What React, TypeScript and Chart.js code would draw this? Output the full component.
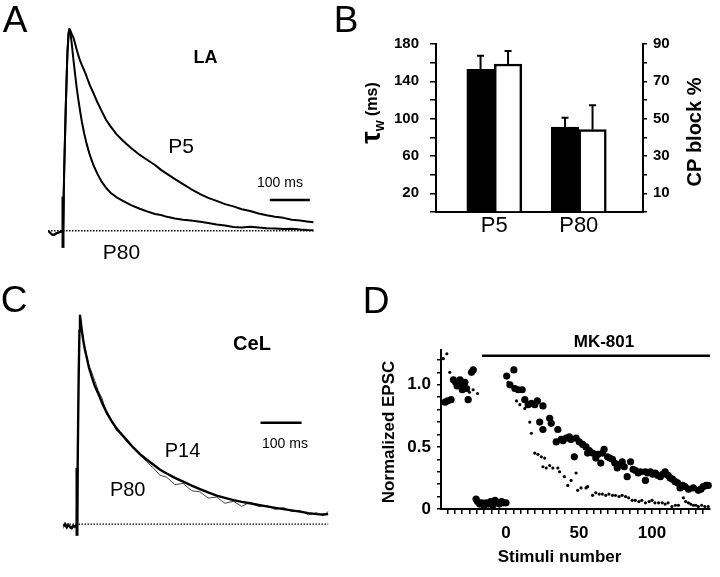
import React, { useEffect, useRef } from 'react';
import { Chart, registerables } from 'chart.js';

Chart.register(...registerables);

const FONT = '"Liberation Sans", Arial, Helvetica, sans-serif';
Chart.defaults.font.family = FONT;
Chart.defaults.color = '#000';

// ---------------- Panel A (LA) : normalized EPSC traces ----------------
const laTime = [-37.5, -33, -28, -22, -16, -10, -4, 0, 3, 7, 11, 14, 16, 19, 22, 26, 30, 34, 38, 43, 47, 53, 59,
  67, 76, 86, 97, 108, 118, 134, 150, 170, 192, 210, 230, 245, 260, 280, 300, 320, 343, 363, 384,
  405, 426, 447, 468, 489, 509, 530, 551, 572, 593, 610, 626];
const laP5 = [0, -0.008, -0.018, -0.02, -0.012, -0.008, -0.004, 0, 0.3, 0.62, 0.88, 0.98, 1.0,
  0.99, 0.975, 0.958, 0.93, 0.9, 0.872, 0.842, 0.822, 0.795, 0.765,
  0.722, 0.683, 0.637, 0.592, 0.549, 0.52, 0.478, 0.446, 0.41, 0.376,
  0.352, 0.326, 0.302, 0.282, 0.256, 0.231, 0.207, 0.182, 0.163, 0.148,
  0.132, 0.121, 0.107, 0.098, 0.086, 0.077, 0.07, 0.064, 0.055, 0.051, 0.046, 0.042];
const laP80 = [0, -0.008, -0.018, -0.02, -0.012, -0.008, -0.004, 0, 0.3, 0.62, 0.88, 0.98, 1.0,
  0.975, 0.925, 0.85, 0.78, 0.712, 0.655, 0.59, 0.542, 0.482, 0.432,
  0.376, 0.326, 0.282, 0.242, 0.212, 0.19, 0.166, 0.148, 0.127, 0.109,
  0.096, 0.083, 0.078, 0.069, 0.061, 0.055, 0.051, 0.045, 0.039, 0.031,
  0.026, 0.019, 0.016, 0.02, 0.016, 0.012, 0.011, 0.009, 0.01, 0.006, 0.004, 0.003];
const laArtifact = { t: 0, from: -0.085, to: 0.17 };
const laScaleBar = { from: 517, to: 617, level: 0.153 }; // 100 ms

// ---------------- Panel B : decay time constant and CP block ----------------
const groups = ['P5', 'P80'];
const tauW = [152.8, 90.9];
const tauWErr = [14.7, 10];
const cpBlock = [79.3, 44.2];
const cpBlockErr = [7, 13];
const tauTicks = [0, 180, 20];
const cpTicks = [0, 90, 10];

// ---------------- Panel C (CeL) ----------------
const celTime = [-33, -29, -25, -21, -17, -13, -9, -5, -1, 0, 2, 4, 6, 7.3,
  9, 12, 15.4, 19, 23.6, 29, 35.8, 43, 52, 62,
  72.4, 84, 96.8, 109, 121, 137, 153.7, 170, 186, 202,
  218.8, 239, 259, 280, 300, 320, 341, 361, 382, 402,
  422, 443, 463, 484, 504, 524, 544, 565, 585, 600, 613];
const celP80 = [-0.01, 0.0, -0.015, -0.005, -0.012, -0.02, -0.008, -0.012, -0.005, 0, 0.35, 0.7, 0.93, 1.0,
  0.975, 0.925, 0.88, 0.84, 0.8, 0.752, 0.708, 0.665, 0.625, 0.578,
  0.536, 0.495, 0.458, 0.43, 0.404, 0.368, 0.336, 0.31, 0.286, 0.262,
  0.243, 0.222, 0.204, 0.185, 0.168, 0.152, 0.137, 0.126, 0.115, 0.107,
  0.1, 0.092, 0.085, 0.078, 0.072, 0.066, 0.06, 0.053, 0.048, 0.046, 0.048];
const celP14 = [-0.02, 0.01, -0.025, 0.005, -0.02, -0.01, 0.0, -0.02, 0.005, 0, 0.33, 0.68, 0.92, 0.99,
  0.97, 0.93, 0.89, 0.85, 0.81, 0.76, 0.73, 0.69, 0.64, 0.6,
  0.525, 0.5, 0.448, 0.437, 0.395, 0.372, 0.33, 0.3, 0.27, 0.235,
  0.225, 0.19, 0.195, 0.16, 0.155, 0.125, 0.13, 0.1, 0.11, 0.085,
  0.105, 0.085, 0.09, 0.07, 0.08, 0.06, 0.065, 0.045, 0.055, 0.04, 0.06];
const celArtifact = { t: 0, from: -0.056, to: 0.27 };
const celScaleBar = { from: 448, to: 548, level: 0.486 }; // 100 ms

// ---------------- Panel D : MK-801 ----------------
const dBigX = [-41.7, -40, -37.6, -36, -34.5, -33.5, -32.7, -31.5, -30.5, -29.9, -28.1, -27, -25.9, -23.6, -22.4,
  -20.5, -19.5, -18, -16.5, -15, -13.5, -12, -10.5, -9, -7.5, -6, -4.5, -3, -1.5, 0,
  0.5, 2.7, 5.4, 6.1, 8.4, 11.1, 12.9, 15.2, 17.4, 19.7, 21.5, 23.1, 25.3, 25.3, 29.9, 31, 34.4, 35.5, 37.8, 39,
  41.2, 43.4, 44.5, 46.8, 48, 50.2, 52.5, 54.8, 55.9, 57, 59.3, 61.5, 63, 64.9, 66, 67.2, 69.5, 71, 72.9, 74.5,
  76.2, 78, 79.6, 81, 83, 85.3, 87, 88.7, 90.5, 92.1, 95.5, 95.5, 97, 98.9, 100.5, 102.3, 104, 105.7, 107.5, 109,
  111, 112.4, 114, 115.8, 117.5, 119.2, 121, 122.6, 125, 128.3, 131.7, 133.5, 135.1, 137, 138.5];
const dBigY = [0.86, 0.87, 0.88, 1.04, 1.02, 0.99, 1.0, 1.04, 1.0, 0.96, 1.02, 0.97, 0.88, 1.1, 1.12,
  0.08, 0.06, 0.04, 0.05, 0.03, 0.05, 0.04, 0.06, 0.03, 0.07, 0.05, 0.04, 0.06, 0.05, 0.05,
  1.07, 1.0, 1.12, 0.97, 0.96, 0.96, 0.88, 0.84, 0.85, 0.84, 0.87, 0.7, 0.83, 0.64, 0.73, 0.69, 0.54, 0.64, 0.56, 0.55,
  0.57, 0.58, 0.56, 0.42, 0.57, 0.54, 0.52, 0.5, 0.45, 0.47, 0.45, 0.41, 0.44, 0.37, 0.45, 0.48, 0.42, 0.41, 0.4, 0.37,
  0.33, 0.36, 0.38, 0.34, 0.26, 0.38, 0.32, 0.31, 0.29, 0.3, 0.23, 0.3, 0.29, 0.3, 0.28, 0.29, 0.27, 0.26, 0.28, 0.3,
  0.27, 0.25, 0.24, 0.22, 0.21, 0.17, 0.19, 0.18, 0.16, 0.17, 0.15, 0.16, 0.18, 0.19, 0.19];
const dSmallX = [-42.9, -40.5, -38.5, -33, -28.5, -25, -22.5, -19.5,
  1.5, 3.8, 7.2, 9.5, 12.9, 16.3, 17.4, 19.7, 21.9, 24.2, 25.3, 26.5, 27.6, 29.9, 32.1, 35.5, 36.7, 40, 42.3, 44.6,
  48, 49.1, 51.4, 54.8, 55.9, 59.3, 61.5, 63.8, 66, 68.3, 70.5, 72.9, 75, 77.4, 79.5, 81.9, 84, 86.4, 88.5, 91, 93,
  95.5, 98, 100, 102, 104.5, 107, 109, 111, 113.6, 116, 118.1, 121.5, 123, 124.9, 126.5, 128.3, 130, 131.7, 134,
  136.2, 138.5];
const dSmallY = [1.21, 1.25, 1.1, 1.02, 0.97, 0.94, 0.96, 0.93,
  1.02, 1.0, 0.87, 0.84, 0.81, 0.7, 0.61, 0.45, 0.44, 0.42, 0.34, 0.41, 0.33, 0.35, 0.33, 0.33, 0.3, 0.26, 0.19, 0.23,
  0.29, 0.15, 0.17, 0.17, 0.18, 0.11, 0.13, 0.12, 0.12, 0.11, 0.12, 0.11, 0.11, 0.1, 0.11, 0.1, 0.09, 0.07, 0.07, 0.06, 0.07,
  0.05, 0.06, 0.07, 0.05, 0.05, 0.05, 0.04, 0.05, 0.02, 0.03, 0.03, 0.09, 0.06, 0.05, 0.04, 0.03, 0.03, 0.02, 0.03,
  0.02, 0.02];
const mk801 = { from: -16.4, to: 139.7, level: 1.234 };
const dXTicks = [-44.5, 139.7, 5];
const dYTicks = [0, 1.28, 0.1];

// ---------------- helpers ----------------
type Lbl = { text: string; x: number; y: number; font: string; align?: CanvasTextAlign; base?: CanvasTextBaseline; rot?: number };

const textPlugin = (id: string, labels: Lbl[], extra?: (ctx: CanvasRenderingContext2D) => void) => ({
  id,
  afterDraw(chart: any) {
    const ctx: CanvasRenderingContext2D = chart.ctx;
    ctx.save();
    ctx.fillStyle = '#000';
    for (const l of labels) {
      ctx.save();
      ctx.translate(l.x, l.y);
      if (l.rot) ctx.rotate(l.rot);
      ctx.font = l.font;
      ctx.textAlign = l.align || 'center';
      ctx.textBaseline = l.base || 'alphabetic';
      ctx.fillText(l.text, 0, 0);
      ctx.restore();
    }
    if (extra) extra(ctx);
    ctx.restore();
  },
});

const zip = (xs: number[], ys: number[]) => xs.map((x, i) => ({ x, y: ys[i] }));
const seg = (x1: number, y1: number, x2: number, y2: number) => [{ x: x1, y: y1 }, { x: x2, y: y2 }];

const baseOpts = (padding: any) => ({
  animation: false as const,
  responsive: false,
  maintainAspectRatio: false,
  events: [] as any[],
  layout: { padding },
  plugins: { legend: { display: false }, tooltip: { enabled: false }, title: { display: false } },
});

const lineDs = (data: any[], width: number, extra: any = {}) => ({
  type: 'line',
  data,
  borderColor: '#000',
  borderWidth: width,
  pointRadius: 0,
  tension: 0,
  fill: false,
  borderJoinStyle: 'round',
  ...extra,
});

function makeA(canvas: HTMLCanvasElement) {
  const t0 = laTime[0];
  const t1 = laTime[laTime.length - 1];
  return new Chart(canvas, {
    type: 'line',
    data: {
      datasets: [
        lineDs(zip(laTime, laP5), 2),
        lineDs(zip(laTime, laP80), 2),
        lineDs(seg(laArtifact.t, laArtifact.from, laArtifact.t, laArtifact.to), 3, { borderCapStyle: 'butt' }),
        lineDs(seg(t0, 0, t1, 0), 1.3, { borderDash: [1.5, 1.5] }),
        lineDs(seg(laScaleBar.from, laScaleBar.level, laScaleBar.to, laScaleBar.level), 2.5, { borderCapStyle: 'butt' }),
      ] as any,
    },
    options: {
      ...baseOpts({ left: 48, right: 15, top: 19, bottom: 11 }),
      scales: {
        x: { type: 'linear', min: -37.5, max: 630, display: false },
        y: { type: 'linear', min: -0.14, max: 1.05, display: false },
      },
    } as any,
    plugins: [
      textPlugin('txtA', [
        { text: 'A', x: 15, y: 32, font: `37px ${FONT}` },
        { text: 'LA', x: 205.5, y: 63, font: `bold 18px ${FONT}` },
        { text: 'P5', x: 181, y: 153, font: `21px ${FONT}` },
        { text: '100 ms', x: 280, y: 187, font: `14px ${FONT}` },
        { text: 'P80', x: 121.5, y: 259, font: `21px ${FONT}` },
      ]),
    ] as any,
  });
}

const errorBarPlugin = {
  id: 'errbars',
  afterDatasetsDraw(chart: any) {
    const ctx: CanvasRenderingContext2D = chart.ctx;
    const sets = [
      { i: 0, vals: tauW, errs: tauWErr, axis: 'y' },
      { i: 1, vals: cpBlock, errs: cpBlockErr, axis: 'y1' },
    ];
    ctx.save();
    ctx.strokeStyle = '#000';
    ctx.lineWidth = 2;
    for (const s of sets) {
      const meta = chart.getDatasetMeta(s.i);
      const scale = chart.scales[s.axis];
      meta.data.forEach((bar: any, j: number) => {
        const top = scale.getPixelForValue(s.vals[j] + s.errs[j]);
        ctx.beginPath();
        ctx.moveTo(bar.x, bar.y);
        ctx.lineTo(bar.x, top);
        ctx.moveTo(bar.x - 3.5, top);
        ctx.lineTo(bar.x + 3.5, top);
        ctx.stroke();
      });
    }
    ctx.restore();
  },
};

function makeB(canvas: HTMLCanvasElement) {
  const tauTitle = (ctx: CanvasRenderingContext2D) => {
    ctx.save();
    ctx.translate(43, 113);
    ctx.rotate(-Math.PI / 2);
    ctx.textBaseline = 'middle';
    ctx.textAlign = 'left';
    const parts = [
      { t: 'τ', f: `bold 28px ${FONT}`, dy: -1 },
      { t: 'w', f: `bold 14px ${FONT}`, dy: 7 },
      { t: ' (ms)', f: `bold 16px ${FONT}`, dy: 0 },
    ];
    let total = 0;
    for (const p of parts) { ctx.font = p.f; total += ctx.measureText(p.t).width; }
    let x = -total / 2;
    for (const p of parts) {
      ctx.font = p.f;
      ctx.fillText(p.t, x, p.dy);
      x += ctx.measureText(p.t).width;
    }
    ctx.restore();
  };
  return new Chart(canvas, {
    type: 'bar',
    data: {
      datasets: [
        {
          data: zip([0, 1], tauW), yAxisID: 'y', xAxisID: 'x', backgroundColor: '#000', borderColor: '#000',
          borderWidth: 2, barThickness: 27.5,
        },
        {
          data: zip([0, 1], cpBlock), yAxisID: 'y1', xAxisID: 'x', backgroundColor: '#fff', borderColor: '#000',
          borderWidth: 2.5, barThickness: 27.5,
        },
      ],
    },
    options: {
      ...baseOpts({ left: 0, right: 0, top: 44, bottom: 0 }),
      scales: {
        x: {
          type: 'linear', position: 'bottom', min: -0.69, max: 1.76, offset: false,
          grid: { display: false, drawTicks: false, offset: false },
          border: { display: true, color: '#000', width: 2 },
          ticks: {
            stepSize: 1, includeBounds: false, autoSkip: false, maxRotation: 0, padding: 1,
            font: { size: 22 }, color: '#000',
            callback: (v: number) => (Number.isInteger(v) && groups[v] ? groups[v] : ''),
          },
          afterFit: (s: any) => { s.height = 58; },
        },
        y: {
          type: 'linear', position: 'left', min: tauTicks[0], max: tauTicks[1], beginAtZero: true,
          grid: { display: true, drawOnChartArea: false, drawTicks: true, tickLength: 6, color: '#000', lineWidth: 1.5 },
          border: { display: true, color: '#000', width: 2 },
          ticks: {
            stepSize: tauTicks[2], autoSkip: false, padding: 11,
            font: { size: 15, weight: 'bold' }, color: '#000',
            callback: (v: number) => (Math.round(v) % 40 === 20 ? String(v) : ''),
          },
          afterFit: (s: any) => { s.width = 106; },
        },
        y1: {
          type: 'linear', position: 'right', min: cpTicks[0], max: cpTicks[1], beginAtZero: true,
          grid: { display: true, drawOnChartArea: false, drawTicks: true, tickLength: 4, color: '#000', lineWidth: 1.5 },
          border: { display: true, color: '#000', width: 2 },
          ticks: {
            stepSize: cpTicks[2], autoSkip: false, padding: 6,
            font: { size: 15, weight: 'bold' }, color: '#000',
            callback: (v: number) => (Math.round(v) % 20 === 10 ? String(v) : ''),
          },
          afterFit: (s: any) => { s.width = 77; },
        },
      },
    } as any,
    plugins: [
      errorBarPlugin,
      textPlugin('txtB', [
        { text: 'B', x: 16, y: 32, font: `37px ${FONT}` },
        { text: 'CP block %', x: 365.5, y: 132, font: `bold 20px ${FONT}`, base: 'middle', rot: -Math.PI / 2 },
      ], tauTitle),
    ] as any,
  });
}

function makeC(canvas: HTMLCanvasElement) {
  const t0 = celTime[0];
  const t1 = celTime[celTime.length - 1];
  return new Chart(canvas, {
    type: 'line',
    data: {
      datasets: [
        lineDs(zip(celTime, celP80), 2.4),
        lineDs(zip(celTime, celP14), 1, { borderColor: '#444' }),
        lineDs(seg(celArtifact.t, celArtifact.from, celArtifact.t, celArtifact.to), 3, { borderCapStyle: 'butt' }),
        lineDs(seg(t0, 0, t1, 0), 1.3, { borderDash: [1.5, 1.5] }),
        lineDs(seg(celScaleBar.from, celScaleBar.level, celScaleBar.to, celScaleBar.level), 2.5, { borderCapStyle: 'butt' }),
      ] as any,
    },
    options: {
      ...baseOpts({ left: 62, right: 31, top: 30, bottom: 32 }),
      scales: {
        x: { type: 'linear', min: -36.6, max: 615, display: false },
        y: { type: 'linear', min: -0.1, max: 1.075, display: false },
      },
    } as any,
    plugins: [
      textPlugin('txtC', [
        { text: 'C', x: 14, y: 42, font: `37px ${FONT}` },
        { text: 'CeL', x: 252, y: 80, font: `bold 20px ${FONT}` },
        { text: 'P14', x: 182.5, y: 186.7, font: `20px ${FONT}` },
        { text: 'P80', x: 127.7, y: 226, font: `20px ${FONT}` },
        { text: '100 ms', x: 285, y: 178.3, font: `14px ${FONT}` },
      ]),
    ] as any,
  });
}

function makeD(canvas: HTMLCanvasElement) {
  return new Chart(canvas, {
    type: 'scatter',
    data: {
      datasets: [
        { data: zip(dBigX, dBigY), pointRadius: 3.6, backgroundColor: '#000', borderWidth: 0, clip: false },
        { data: zip(dSmallX, dSmallY), pointRadius: 1.6, backgroundColor: '#000', borderWidth: 0, clip: false },
        {
          data: seg(mk801.from, mk801.level, mk801.to, mk801.level), showLine: true, borderColor: '#000',
          borderWidth: 2.5, pointRadius: 0, clip: false,
        },
      ] as any,
    },
    options: {
      ...baseOpts({ left: 0, right: 10, top: 80, bottom: 0 }),
      scales: {
        x: {
          type: 'linear', min: dXTicks[0], max: dXTicks[1],
          grid: { drawOnChartArea: false, drawTicks: true, tickLength: 5, color: '#000', lineWidth: 1.5 },
          border: { display: true, color: '#000', width: 2 },
          ticks: {
            stepSize: dXTicks[2], includeBounds: false, autoSkip: false, maxRotation: 0, padding: 9,
            font: { size: 17, weight: 'bold' }, color: '#000',
            callback: (v: number) => {
              const r = Math.round(v);
              return Math.abs(v - r) < 1e-6 && (r === 0 || r === 50 || r === 100) ? String(r) : '';
            },
          },
          afterFit: (s: any) => { s.height = 68; },
        },
        y: {
          type: 'linear', min: dYTicks[0], max: dYTicks[1],
          grid: { drawOnChartArea: false, drawTicks: true, tickLength: 4, color: '#000', lineWidth: 1.5 },
          border: { display: true, color: '#000', width: 2 },
          ticks: {
            stepSize: dYTicks[2], includeBounds: false, autoSkip: false, padding: 6,
            font: { size: 17, weight: 'bold' }, color: '#000',
            callback: (v: number) => {
              const r = Math.round(v * 10);
              return r === 0 ? '0' : r === 5 ? '0.5' : r === 10 ? '1.0' : '';
            },
          },
          afterFit: (s: any) => { s.width = 81; },
        },
      },
    } as any,
    plugins: [
      textPlugin('txtD', [
        { text: 'D', x: 16, y: 43, font: `37px ${FONT}` },
        { text: 'MK-801', x: 244, y: 77, font: `bold 17px ${FONT}` },
        { text: 'Normalized EPSC', x: 29, y: 162, font: `bold 17px ${FONT}`, base: 'middle', rot: -Math.PI / 2 },
        { text: 'Stimuli number', x: 199.5, y: 292, font: `bold 17px ${FONT}` },
      ]),
    ] as any,
  });
}

export default function App() {
  const aRef = useRef<HTMLCanvasElement>(null);
  const bRef = useRef<HTMLCanvasElement>(null);
  const cRef = useRef<HTMLCanvasElement>(null);
  const dRef = useRef<HTMLCanvasElement>(null);

  useEffect(() => {
    const charts = [
      makeA(aRef.current as HTMLCanvasElement),
      makeB(bRef.current as HTMLCanvasElement),
      makeC(cRef.current as HTMLCanvasElement),
      makeD(dRef.current as HTMLCanvasElement),
    ];
    return () => charts.forEach((c) => c.destroy());
  }, []);

  const pos = (left: number, top: number, w: number, h: number): React.CSSProperties => ({
    position: 'absolute', left, top, width: w, height: h, display: 'block',
  });

  return (
    <div style={{ position: 'fixed', left: 0, top: 0, width: 720, height: 577, background: '#fff', overflow: 'hidden' }}>
      <canvas ref={aRef} width={330} height={270} style={pos(0, 0, 330, 270)} />
      <canvas ref={bRef} width={390} height={270} style={pos(330, 0, 390, 270)} />
      <canvas ref={cRef} width={360} height={307} style={pos(0, 270, 360, 307)} />
      <canvas ref={dRef} width={360} height={307} style={pos(360, 270, 360, 307)} />
    </div>
  );
}
